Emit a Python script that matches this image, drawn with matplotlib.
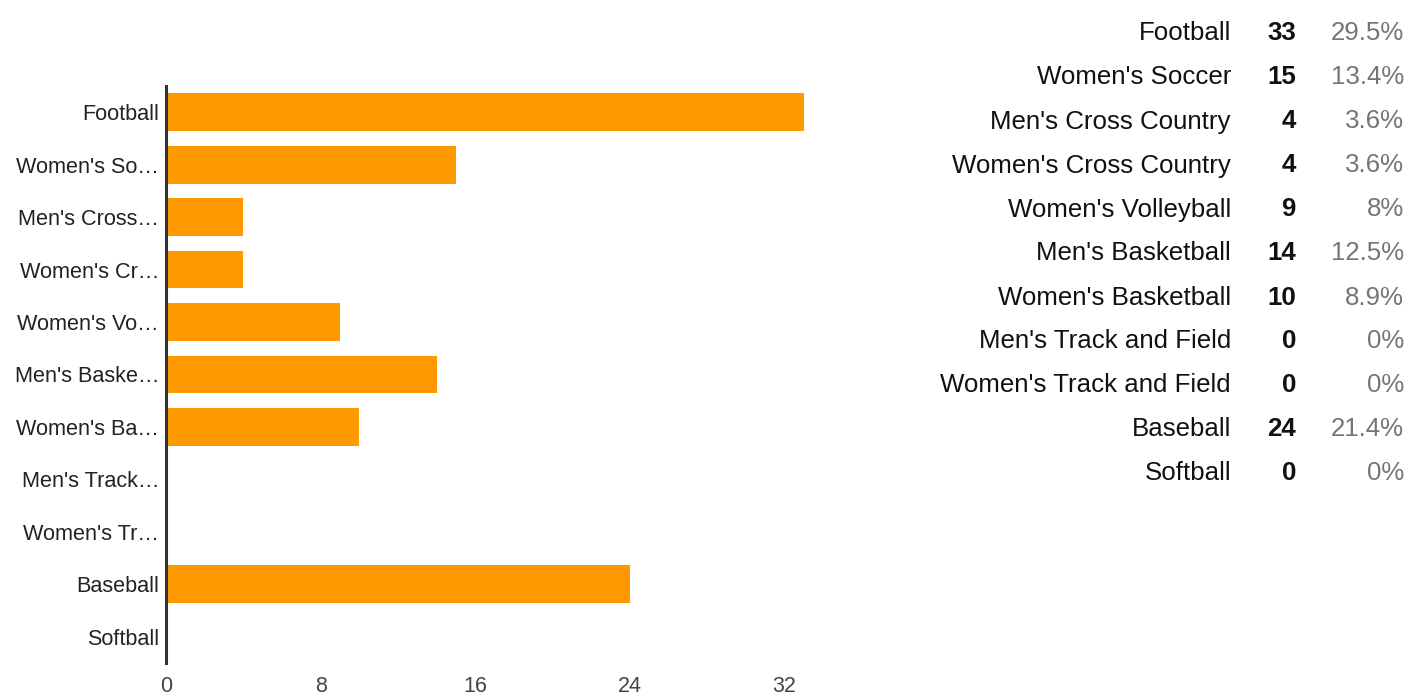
import matplotlib
matplotlib.use("Agg")
import matplotlib.pyplot as plt
import numpy as np

plt.rcParams["font.family"] = ["Liberation Sans", "DejaVu Sans"]

# Data
sports = ["Football", "Women's Soccer", "Men's Cross Country", "Women's Cross Country",
          "Women's Volleyball", "Men's Basketball", "Women's Basketball",
          "Men's Track and Field", "Women's Track and Field", "Baseball", "Softball"]
short_labels = ["Football", "Women's So…", "Men's Cross…", "Women's Cr…", "Women's Vo…",
                "Men's Baske…", "Women's Ba…", "Men's Track…", "Women's Tr…",
                "Baseball", "Softball"]
counts = [33, 15, 4, 4, 9, 14, 10, 0, 0, 24, 0]
percents = ["29.5%", "13.4%", "3.6%", "3.6%", "8%", "12.5%", "8.9%", "0%", "0%", "21.4%", "0%"]
x_ticks = [0, 8, 16, 24, 32]

W, H = 1410, 696
fig = plt.figure(figsize=(W / 100, H / 100), dpi=100)
fig.patch.set_facecolor("white")

ax = fig.add_axes([166 / W, 33 / H, (804 - 166) / W, (663 - 86) / H])
y = np.arange(len(sports))
ax.barh(y, counts, height=0.72, color="#FF9900")
ax.set_ylim(len(sports) - 0.5, -0.5)
ax.set_xlim(0, 33)

ax.set_yticks(y)
ax.set_yticklabels(short_labels, fontsize=15.6, color="#222222")
ax.set_xticks(x_ticks)
ax.set_xticklabels([str(t) for t in x_ticks], fontsize=15.5, color="#444444")
ax.tick_params(axis="y", length=0, pad=5)
ax.tick_params(axis="x", length=0, pad=9)

for s in ["top", "right", "bottom"]:
    ax.spines[s].set_visible(False)
ax.spines["left"].set_color("#333333")
ax.spines["left"].set_linewidth(2.2)

# Summary table on the right
row0, row_step = 33.5, 44
for i, (name, c, p) in enumerate(zip(sports, counts, percents)):
    yy = 1 - (row0 + i * row_step) / H
    fig.text(1231 / W, yy, name, ha="right", va="center", fontsize=18.6, color="#111111")
    fig.text(1296 / W, yy, str(c), ha="right", va="center", fontsize=18.6,
             fontweight="bold", color="#111111")
    fig.text(1404 / W, yy, p, ha="right", va="center", fontsize=18.6, color="#757575")

fig.savefig("out.png", dpi=100)
